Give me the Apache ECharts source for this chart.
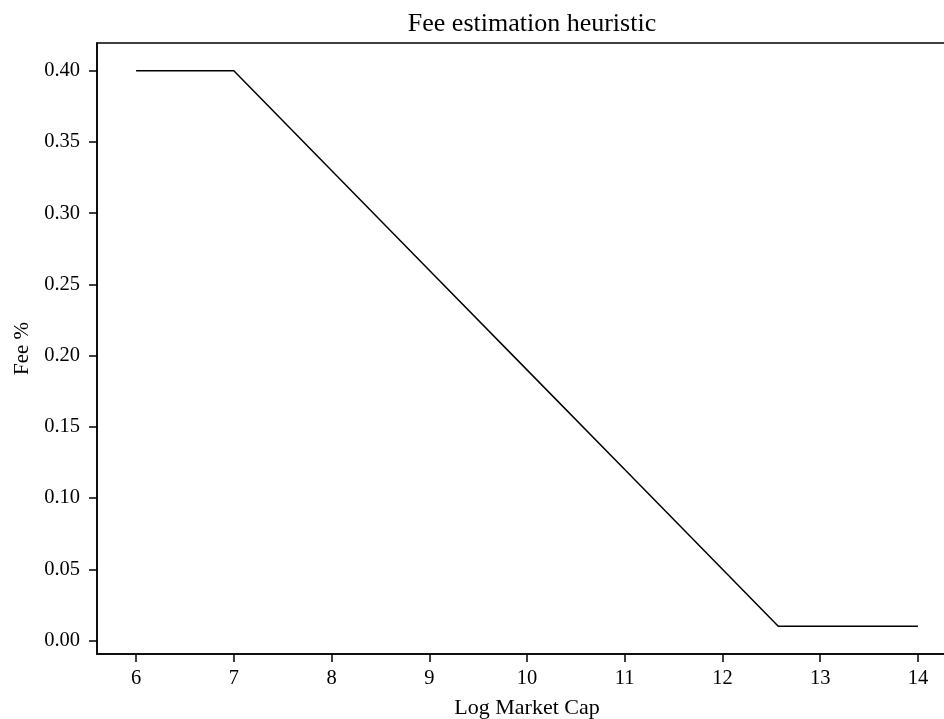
<!DOCTYPE html>
<html>
<head>
<meta charset="utf-8">
<script src="https://cdn.jsdelivr.net/npm/echarts@6/dist/echarts.min.js"></script>
<style>
  html, body { margin: 0; padding: 0; background: #fff; }
  #chart { width: 944px; height: 719px; }
</style>
</head>
<body>
<div id="chart"></div>
<script>
// fee curve
var logCap = [6, 7, 8, 9, 10, 11, 12, 12.571, 13, 14];
var feePct = [0.40, 0.40, 0.33, 0.26, 0.19, 0.12, 0.05, 0.01, 0.01, 0.01];
var xTicks = [6, 7, 8, 9, 10, 11, 12, 13, 14];
var yTicks = [0, 0.05, 0.10, 0.15, 0.20, 0.25, 0.30, 0.35, 0.40];

var chart = echarts.init(document.getElementById('chart'));
var font = '"Liberation Serif", "DejaVu Serif", serif';

chart.setOption({
  animation: false,
  backgroundColor: '#fff',
  textStyle: { fontFamily: font },
  title: {
    text: 'Fee estimation heuristic',
    left: 527,
    textAlign: 'center',
    top: 6,
    textStyle: { fontFamily: font, fontSize: 26, fontWeight: 'normal', color: '#000' }
  },
  grid: {
    left: 97,
    top: 43,
    width: 860,
    height: 611,
    outerBoundsMode: 'none',
    containLabel: false,
    show: true,
    borderColor: '#000',
    borderWidth: 1.5
  },
  xAxis: {
    type: 'value',
    min: 5.6,
    max: 14.4,
    name: 'Log Market Cap',
    nameLocation: 'middle',
    nameGap: 43,
    nameTextStyle: { fontFamily: font, fontSize: 22, color: '#000' },
    splitLine: { show: false },
    axisLine: { show: true, onZero: false, lineStyle: { color: '#000', width: 1.5 } },
    axisTick: { show: true, length: 8, customValues: xTicks, lineStyle: { color: '#000', width: 1.5 } },
    axisLabel: {
      customValues: xTicks,
      fontFamily: font, fontSize: 20.5, color: '#000', margin: 14
    }
  },
  yAxis: {
    type: 'value',
    min: -0.0095,
    max: 0.4195,
    name: 'Fee %',
    nameLocation: 'middle',
    nameGap: 64,
    nameTextStyle: { fontFamily: font, fontSize: 21, color: '#000' },
    splitLine: { show: false },
    axisLine: { show: true, onZero: false, lineStyle: { color: '#000', width: 1.5 } },
    axisTick: { show: true, length: 8, customValues: yTicks, lineStyle: { color: '#000', width: 1.5 } },
    axisLabel: {
      customValues: yTicks,
      formatter: function (v) { return v.toFixed(2); },
      fontFamily: font, fontSize: 20.5, color: '#000', margin: 17
    }
  },
  series: [{
    type: 'line',
    data: logCap.map(function (x, i) { return [x, feePct[i]]; }),
    showSymbol: false,
    lineStyle: { color: '#000', width: 1.5 }
  }]
});
</script>
</body>
</html>
